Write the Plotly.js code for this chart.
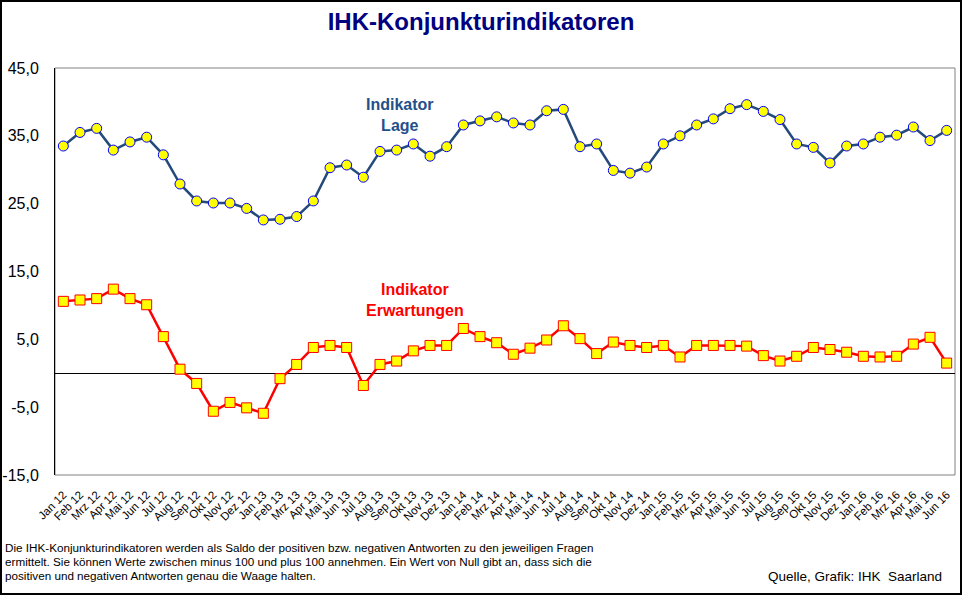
<!DOCTYPE html>
<html>
<head>
<meta charset="utf-8">
<script src="https://cdn.plot.ly/plotly-3.0.1.min.js"></script>
<style>
  body { margin: 0; background: #fff; }
  #wrap { position: relative; width: 962px; height: 595px; }
  #chart { width: 962px; height: 595px; }
  #frame { position: absolute; left: 0; top: 0; width: 962px; height: 595px;
           box-sizing: border-box; border: 2px solid #000; pointer-events: none; }
</style>
</head>
<body>
<div id="wrap">
  <div id="chart"></div>
  <div id="frame"></div>
</div>
<script>
// Monate Jan 12 bis Jun 16
const months = [
  "Jan 12","Feb 12","Mrz 12","Apr 12","Mai 12","Jun 12","Jul 12","Aug 12","Sep 12","Okt 12","Nov 12","Dez 12",
  "Jan 13","Feb 13","Mrz 13","Apr 13","Mai 13","Jun 13","Jul 13","Aug 13","Sep 13","Okt 13","Nov 13","Dez 13",
  "Jan 14","Feb 14","Mrz 14","Apr 14","Mai 14","Jun 14","Jul 14","Aug 14","Sep 14","Okt 14","Nov 14","Dez 14",
  "Jan 15","Feb 15","Mrz 15","Apr 15","Mai 15","Jun 15","Jul 15","Aug 15","Sep 15","Okt 15","Nov 15","Dez 15",
  "Jan 16","Feb 16","Mrz 16","Apr 16","Mai 16","Jun 16"
];

const lage = [
  33.5, 35.5, 36.1, 32.9, 34.1, 34.8, 32.2, 27.9, 25.4, 25.1, 25.1, 24.3,
  22.6, 22.7, 23.1, 25.4, 30.3, 30.7, 28.9, 32.7, 32.9, 33.8, 32.0, 33.4,
  36.6, 37.2, 37.8, 36.9, 36.6, 38.7, 38.9, 33.4, 33.8, 29.9, 29.5, 30.4,
  33.8, 35.0, 36.6, 37.5, 39.0, 39.6, 38.6, 37.4, 33.8, 33.3, 31.0, 33.5,
  33.8, 34.8, 35.1, 36.3, 34.3, 35.8
];

const erwartungen = [
  10.6, 10.8, 11.0, 12.4, 11.0, 10.1, 5.4, 0.6, -1.5, -5.6, -4.3, -5.1,
  -5.9, -0.8, 1.3, 3.8, 4.1, 3.8, -1.8, 1.3, 1.8, 3.3, 4.1, 4.1,
  6.6, 5.4, 4.5, 2.8, 3.7, 4.9, 7.0, 5.1, 2.9, 4.6, 4.1, 3.8,
  4.1, 2.4, 4.1, 4.1, 4.1, 4.0, 2.6, 1.8, 2.5, 3.8, 3.5, 3.1,
  2.5, 2.4, 2.5, 4.3, 5.3, 1.5
];

const yTicks = [-15, -5, 5, 15, 25, 35, 45];
// Beschriftung wie im Original: Komma, normaler Bindestrich als Minus
const yTickText = yTicks.map(v => v.toFixed(1).replace(".", ","));

const footnoteLines = [
  "Die IHK-Konjunkturindikatoren werden als Saldo der positiven bzw. negativen Antworten zu den jeweiligen Fragen",
  "ermittelt. Sie können Werte zwischen minus 100 und plus 100 annehmen. Ein Wert von Null gibt an, dass sich die",
  "positiven und negativen Antworten genau die Waage halten."
];

var data = [
  {
    x: months,
    y: lage,
    type: "scatter",
    mode: "lines+markers",
    line: { color: "#244a7c", width: 2.5 },
    marker: { symbol: "circle", size: 10, color: "#ffff00", line: { color: "#0000ff", width: 1 } },
    hoverinfo: "x+y"
  },
  {
    x: months,
    y: erwartungen,
    type: "scatter",
    mode: "lines+markers",
    line: { color: "#ff0000", width: 2.5 },
    marker: { symbol: "square", size: 10, color: "#ffff00", line: { color: "#ff0000", width: 1 } },
    hoverinfo: "x+y"
  }
];

var annotations = [
  { text: "<b>Indikator<br>Lage</b>", xref: "paper", yref: "paper", x: 0.383, y: 0.935,
    showarrow: false, font: { size: 16, color: "#24508a" }, align: "center" },
  { text: "<b>Indikator<br>Erwartungen</b>", xref: "paper", yref: "paper", x: 0.4, y: 0.43,
    showarrow: false, font: { size: 16, color: "#ff0000" }, align: "center" },
  { text: "Quelle, Grafik: IHK  Saarland", xref: "paper", yref: "paper", x: 0.988, y: -0.25,
    xanchor: "right", yanchor: "middle", showarrow: false,
    font: { size: 13.5, color: "#000" } }
];

// Fußnote zeilenweise, damit der Zeilenabstand passt
footnoteLines.forEach(function (line, i) {
  annotations.push({
    text: line, xref: "paper", yref: "paper", x: -0.058, y: -0.179 - i * 0.034,
    xanchor: "left", yanchor: "middle", align: "left", showarrow: false,
    font: { size: 11.7, color: "#000" }
  });
});

var layout = {
  width: 962,
  height: 595,
  margin: { l: 55, r: 7, t: 68, b: 120 },
  paper_bgcolor: "#ffffff",
  plot_bgcolor: "#ffffff",
  showlegend: false,
  font: { family: "Arial, Liberation Sans, sans-serif", color: "#000" },
  title: {
    text: "<b>IHK-Konjunkturindikatoren</b>",
    font: { size: 24, color: "#000080", family: "Arial, Liberation Sans, sans-serif" },
    x: 0.5, xanchor: "center",
    y: 0.963, yanchor: "middle",
    yref: "container"
  },
  xaxis: {
    type: "category",
    tickangle: -45,
    tickfont: { size: 11.5 },
    showgrid: false,
    zeroline: false,
    showline: false,
    ticks: "",
    ticklabelstandoff: 10,
    range: [-0.5, months.length - 0.5]
  },
  yaxis: {
    range: [-15, 45],
    tickvals: yTicks,
    ticktext: yTickText,
    tickfont: { size: 16 },
    showgrid: false,
    zeroline: true,
    zerolinecolor: "#000",
    zerolinewidth: 1,
    showline: true,
    linecolor: "#000",
    linewidth: 1,
    ticks: "",
    ticklabelstandoff: 12
  },
  shapes: [
    { type: "rect", xref: "paper", yref: "paper", x0: 0, x1: 1, y0: 0, y1: 1,
      line: { color: "#808080", width: 1 }, layer: "below" }
  ],
  annotations: annotations
};

Plotly.newPlot("chart", data, layout, { displayModeBar: false, staticPlot: true });
</script>
</body>
</html>
